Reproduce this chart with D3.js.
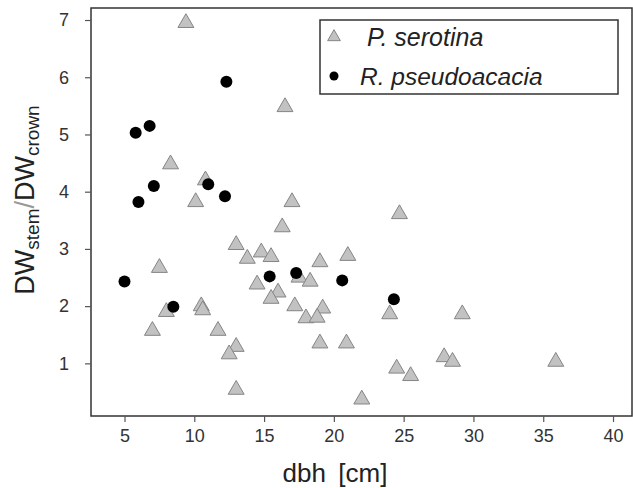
<!DOCTYPE html>
<html>
<head>
<meta charset="utf-8">
<script src="https://cdn.jsdelivr.net/npm/d3@7"></script>
<style>
  body { margin: 0; background: #fff; }
  svg { display: block; font-family: "Liberation Sans", Arial, sans-serif; }
</style>
</head>
<body>
<svg id="chart" width="633" height="488"></svg>
<script>
// P. serotina (triangles): dbh [cm], DW ratio
var serotina_dbh = [9.4, 16.5, 8.3, 10.8, 10.1, 17.0, 16.3, 13.0, 13.8, 14.8, 15.5, 21.0, 19.0, 7.5,
    17.5, 18.3, 14.5, 16.0, 15.5, 17.2, 19.2, 18.0, 18.8, 19.0, 20.9, 8.0, 10.5, 10.6, 7.0, 11.7,
    13.0, 12.5, 13.0, 24.7, 24.0, 29.2, 27.9, 28.5, 35.9, 24.5, 25.5, 22.0];
var serotina_ratio = [6.95, 5.48, 4.48, 4.2, 3.82, 3.82, 3.38, 3.07, 2.83, 2.94, 2.86, 2.88, 2.77, 2.67,
    2.50, 2.43, 2.38, 2.24, 2.13, 2.0, 1.96, 1.79, 1.80, 1.35, 1.35, 1.90, 2.0, 1.93, 1.57, 1.57,
    1.29, 1.16, 0.54, 3.61, 1.86, 1.86, 1.11, 1.03, 1.03, 0.91, 0.78, 0.37];

// R. pseudoacacia (circles)
var robinia_dbh = [12.3, 5.8, 6.8, 11.0, 7.1, 12.2, 6.0, 5.0, 15.4, 17.3, 20.6, 24.3, 8.5];
var robinia_ratio = [5.92, 5.03, 5.15, 4.13, 4.1, 3.92, 3.82, 2.43, 2.52, 2.58, 2.45, 2.12, 1.99];

var x_ticks = [5, 10, 15, 20, 25, 30, 35, 40];
var y_ticks = [1, 2, 3, 4, 5, 6, 7];
var legend_labels = ["P. serotina", "R. pseudoacacia"];

function draw() {
    var pLeft = 91, pRight = 632, pTop = 8, pBottom = 416;

    var svg = d3.select("#chart");

    var xScale = d3.scaleLinear().domain([2.6, 41.36]).range([pLeft, pRight]);
    var yScale = d3.scaleLinear().domain([0.08, 7.21]).range([pBottom, pTop]);

    // frame
    svg.append("rect")
        .attr("x", pLeft).attr("y", pTop)
        .attr("width", pRight - pLeft).attr("height", pBottom - pTop)
        .attr("fill", "none").attr("stroke", "#333").attr("stroke-width", 1.5);

    // x axis
    var xAxis = svg.append("g")
        .attr("transform", "translate(0," + pBottom + ")")
        .call(d3.axisBottom(xScale).tickValues(x_ticks).tickSize(6).tickPadding(7).tickFormat(d3.format("d")));
    xAxis.select(".domain").remove();
    xAxis.selectAll("line").attr("stroke", "#555").attr("stroke-width", 1.2);
    xAxis.attr("font-size", 18).attr("font-family", null);
    xAxis.selectAll("text").attr("fill", "#333");

    // y axis
    var yAxis = svg.append("g")
        .attr("transform", "translate(" + pLeft + ",0)")
        .call(d3.axisLeft(yScale).tickValues(y_ticks).tickSize(6).tickPadding(16).tickFormat(d3.format("d")));
    yAxis.select(".domain").remove();
    yAxis.selectAll("line").attr("stroke", "#555").attr("stroke-width", 1.2);
    yAxis.attr("font-size", 18).attr("font-family", null);
    yAxis.selectAll("text").attr("fill", "#333");

    // x label
    svg.append("text")
        .attr("x", 335).attr("y", 482)
        .attr("text-anchor", "middle")
        .attr("font-size", 26).attr("fill", "#222")
        .text("dbh\u2009 [cm]");

    // y label with subscripts
    var ylab = svg.append("text")
        .attr("transform", "translate(34,200) rotate(-90)")
        .attr("text-anchor", "middle")
        .attr("font-size", 27).attr("fill", "#222");
    ylab.append("tspan").text("DW");
    ylab.append("tspan").attr("font-size", 19).attr("dy", 5).text("stem");
    ylab.append("tspan").attr("dy", -5).attr("fill", "#999").text("/");
    ylab.append("tspan").text("DW");
    ylab.append("tspan").attr("font-size", 19).attr("dy", 5).text("crown");

    // points: triangles first, circles on top
    var serotina = serotina_dbh.map(function(d, i) { return {x: d, y: serotina_ratio[i]}; });
    var robinia = robinia_dbh.map(function(d, i) { return {x: d, y: robinia_ratio[i]}; });

    var tri = d3.symbol().type(d3.symbolTriangle).size(110);

    svg.append("g").selectAll("path").data(serotina).enter().append("path")
        .attr("d", tri)
        .attr("transform", function(d) { return "translate(" + xScale(d.x) + "," + yScale(d.y) + ")"; })
        .attr("fill", "#c2c2c2")
        .attr("stroke", "#858585")
        .attr("stroke-width", 1);

    svg.append("g").selectAll("circle").data(robinia).enter().append("circle")
        .attr("cx", function(d) { return xScale(d.x); })
        .attr("cy", function(d) { return yScale(d.y); })
        .attr("r", 6)
        .attr("fill", "#000");

    // legend
    svg.append("rect")
        .attr("x", 320).attr("y", 20).attr("width", 298).attr("height", 74)
        .attr("fill", "#fff").attr("stroke", "#333").attr("stroke-width", 1.5);

    svg.append("path")
        .attr("d", d3.symbol().type(d3.symbolTriangle).size(70))
        .attr("transform", "translate(334,37)")
        .attr("fill", "#c2c2c2").attr("stroke", "#858585");
    svg.append("circle")
        .attr("cx", 334).attr("cy", 76).attr("r", 4.5).attr("fill", "#000");

    svg.append("text").attr("x", 367).attr("y", 46)
        .attr("font-size", 25).attr("font-style", "italic").attr("fill", "#222")
        .text(legend_labels[0]);
    svg.append("text").attr("x", 360).attr("y", 85)
        .attr("font-size", 24.5).attr("font-style", "italic").attr("fill", "#222")
        .text(legend_labels[1]);
}

draw();
</script>
</body>
</html>
